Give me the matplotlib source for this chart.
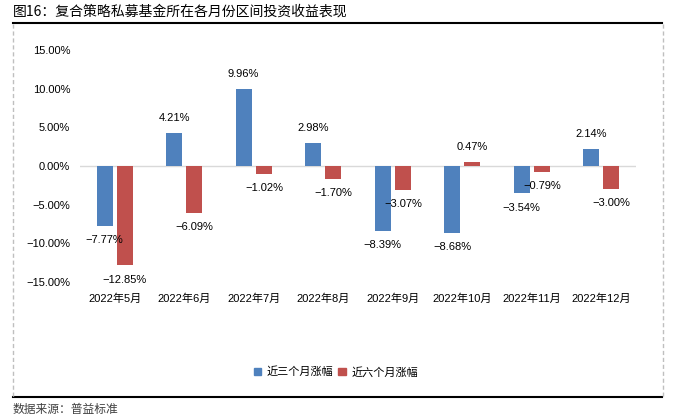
import matplotlib
matplotlib.use("Agg")
import matplotlib.pyplot as plt
from matplotlib.lines import Line2D
import numpy as np

plt.rcParams['font.family'] = ['Liberation Sans', 'Noto Sans CJK SC', 'DejaVu Sans']
plt.rcParams['axes.unicode_minus'] = True

categories = ["2022年5月", "2022年6月", "2022年7月", "2022年8月",
              "2022年9月", "2022年10月", "2022年11月", "2022年12月"]
series_names = ["近三个月涨幅", "近六个月涨幅"]
three_month = [-7.77, 4.21, 9.96, 2.98, -8.39, -8.68, -3.54, 2.14]
six_month = [-12.85, -6.09, -1.02, -1.70, -3.07, 0.47, -0.79, -3.00]
yticks = [-15, -10, -5, 0, 5, 10, 15]

title = "图16：复合策略私募基金所在各月份区间投资收益表现"
source = "数据来源：普益标准"

colors = ["#4F81BD", "#C0504D"]
cjk = ['Noto Sans CJK SC', 'DejaVu Sans']

W, H = 673, 418
fig = plt.figure(figsize=(W / 100, H / 100), dpi=100)

ax = fig.add_axes([80 / W, 1 - 282 / H, 556 / W, 232 / H])
x = np.arange(len(categories))
bw = 0.23
off = 0.147
for vals, dx, c in [(three_month, -off, colors[0]), (six_month, off, colors[1])]:
    ax.bar(x + dx, vals, width=bw, color=c, zorder=3)
    for xi, v in zip(x + dx, vals):
        s = ("%.2f%%" % v).replace("-", "\u2212")
        ax.annotate(s, (xi, v), xytext=(0, 10.8 if v >= 0 else -10.2),
                    textcoords="offset points", ha="center", va="center",
                    fontsize=8, color="#000000", zorder=4)

ax.set_xlim(-0.5, len(categories) - 0.5)
ax.set_ylim(-15, 15)
ax.set_yticks(yticks)
ax.set_yticklabels([("%.2f%%" % t).replace("-", "\u2212") for t in yticks])
ax.set_xticks(x)
ax.set_xticklabels(categories)
ax.axhline(0, color="#D9D9D9", lw=1, zorder=2)
for sp in ax.spines.values():
    sp.set_visible(False)
ax.tick_params(axis="both", length=0, labelsize=8, colors="#000000")
ax.tick_params(axis="y", pad=7)
ax.tick_params(axis="x", pad=8)

# legend
handles = [plt.Rectangle((0, 0), 1, 1, color=c) for c in colors]
fig.legend(handles, series_names, loc="center", bbox_to_anchor=(336 / W, 1 - 372 / H),
           ncol=2, frameon=False, prop={'family': cjk, 'size': 8},
           handlelength=0.7, handleheight=0.7,
           handletextpad=0.5, columnspacing=0.4)

# frame decorations
fig.add_artist(Line2D([13 / W, 662 / W], [1 - 23 / H, 1 - 23 / H], color="black", lw=1.5,
                      transform=fig.transFigure))
fig.add_artist(Line2D([13 / W, 662 / W], [1 - 397 / H, 1 - 397 / H], color="black", lw=1.5,
                      transform=fig.transFigure))
for xx in [12.5, 662.5]:
    fig.add_artist(Line2D([xx / W, xx / W], [1 - 24 / H, 1 - 397 / H], color="#BFBFBF", lw=1,
                          linestyle=(0, (3, 2)), transform=fig.transFigure))

fig.text(13 / W, 1 - 12 / H, title, fontsize=10, va="center", ha="left", color="#000000",
         family=cjk)
fig.text(13 / W, 1 - 409 / H, source, fontsize=8.5, va="center", ha="left", color="#404040",
         family=cjk)

fig.savefig("out.png", dpi=100)
